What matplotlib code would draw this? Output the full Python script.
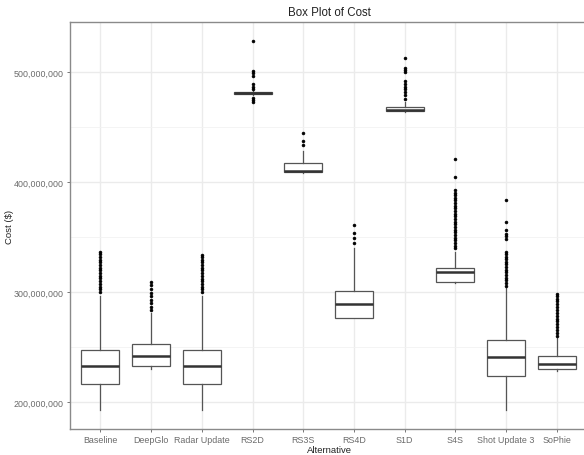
import matplotlib
matplotlib.use("Agg")
import matplotlib.pyplot as plt
from matplotlib.ticker import FuncFormatter, MultipleLocator

plt.rcParams['font.family'] = ['Liberation Sans', 'DejaVu Sans']

# Cost summaries per alternative, in millions of dollars
alternatives = ["Baseline", "DeepGlo", "Radar Update", "RS2D", "RS3S", "RS4D",
                "S1D", "S4S", "Shot Update 3", "SoPhie"]
whisker_low = [192.7, 230.0, 192.7, 479.5, 408.5, 276.5, 464.0, 308.5, 192.7, 228.5]
q1 = [216.4, 232.7, 216.4, 480.6, 409.0, 276.6, 464.8, 309.4, 224.0, 230.0]
median = [233.0, 241.5, 233.0, 481.5, 410.0, 289.0, 465.6, 318.0, 240.6, 234.4]
q3 = [247.6, 253.0, 247.6, 482.3, 417.0, 301.0, 468.8, 321.5, 256.6, 242.0]
whisker_high = [296.6, 280.6, 296.6, 483.5, 428.4, 340.5, 472.5, 336.5, 304.0, 258.0]

outliers = [
    [300.5, 302.8, 305.1, 307.6, 310.0, 312.4, 314.9, 317.2, 319.8, 322.1,
     324.5, 327.0, 329.6, 332.1, 334.5, 336.8],
    [284.0, 286.8, 289.9, 293.1, 296.4, 299.6, 302.8, 306.2, 309.4],
    [300.3, 302.6, 305.0, 307.5, 309.9, 312.3, 314.8, 317.3, 319.7, 322.2,
     324.6, 327.1, 329.4, 331.6, 333.6],
    [472.5, 474.8, 477.0, 484.5, 487.0, 489.0, 496.6, 499.0, 501.0, 528.4],
    [434.0, 437.5, 445.0],
    [344.5, 349.0, 353.6, 361.0],
    [476.0, 479.0, 482.0, 484.5, 487.0, 489.7, 492.1, 500.3, 502.0, 504.2, 513.4],
    [340.0, 342.4, 344.8, 347.2, 349.6, 352.0, 354.5, 356.9, 359.3, 361.7,
     364.1, 366.5, 368.9, 371.3, 373.8, 376.2, 378.6, 381.0, 383.4, 385.8,
     388.2, 390.6, 393.0, 404.8, 420.9],
    [306.0, 308.4, 310.8, 313.2, 315.6, 318.0, 320.4, 322.8, 325.2, 327.6,
     330.0, 332.4, 334.8, 336.5, 348.2, 350.6, 352.7, 356.4, 363.9, 383.6],
    [260.5, 263.0, 265.6, 268.2, 270.8, 273.4, 276.0, 278.6, 281.2, 283.8,
     286.4, 289.0, 291.6, 294.2, 296.8, 298.2],
]

M = 1e6
stats = []
for i, name in enumerate(alternatives):
    stats.append(dict(label=name,
                      whislo=whisker_low[i] * M, q1=q1[i] * M, med=median[i] * M,
                      q3=q3[i] * M, whishi=whisker_high[i] * M,
                      fliers=[v * M for v in outliers[i]]))

fig = plt.figure(figsize=(5.84, 4.56), dpi=100)
# panel runs a little past the right edge of the figure
ax = fig.add_axes([70 / 584, 26 / 456, 518 / 584, 407 / 456])

positions = list(range(1, len(alternatives) + 1))
ax.bxp(stats, positions=positions, widths=0.75, patch_artist=True,
       boxprops=dict(facecolor="white", edgecolor="#555555", linewidth=0.9),
       medianprops=dict(color="#333333", linewidth=1.8),
       whiskerprops=dict(color="#555555", linewidth=0.9),
       capprops=dict(linewidth=0),
       flierprops=dict(marker="o", markersize=2.1, markerfacecolor="black",
                       markeredgecolor="black", markeredgewidth=0.4,
                       linestyle="none"),
       zorder=3)

ax.set_xlim(0.4, 0.4 + 518 / 50.7)
ax.set_ylim(175.5e6, 545.7e6)
ax.set_xticks(positions)
ax.set_xticklabels(alternatives)
ax.yaxis.set_major_locator(MultipleLocator(100e6))
ax.yaxis.set_minor_locator(MultipleLocator(50e6))
ax.yaxis.set_major_formatter(FuncFormatter(lambda v, p: f"{v:,.0f}"))

ax.set_axisbelow(True)
ax.grid(which="major", color="#ebebeb", linewidth=1.0)
ax.grid(which="minor", axis="y", color="#f2f2f2", linewidth=0.6)
ax.tick_params(which="minor", length=0)
ax.tick_params(which="major", length=2.5, width=0.7, color="#777777",
               labelsize=6.4, labelcolor="#6a6a6a", pad=2)
for side in ax.spines.values():
    side.set_color("#8a8a8a")
    side.set_linewidth(1.0)

ax.set_title("Box Plot of Cost", fontsize=8.3, color="#222222", pad=5)
ax.set_xlabel("Alternative", fontsize=6.8, color="#222222", labelpad=0.5)
ax.set_ylabel("Cost ($)", fontsize=6.8, color="#222222")
ax.yaxis.set_label_coords(-56 / 518, 0.5)

fig.savefig("out.png", dpi=100, facecolor="white")
